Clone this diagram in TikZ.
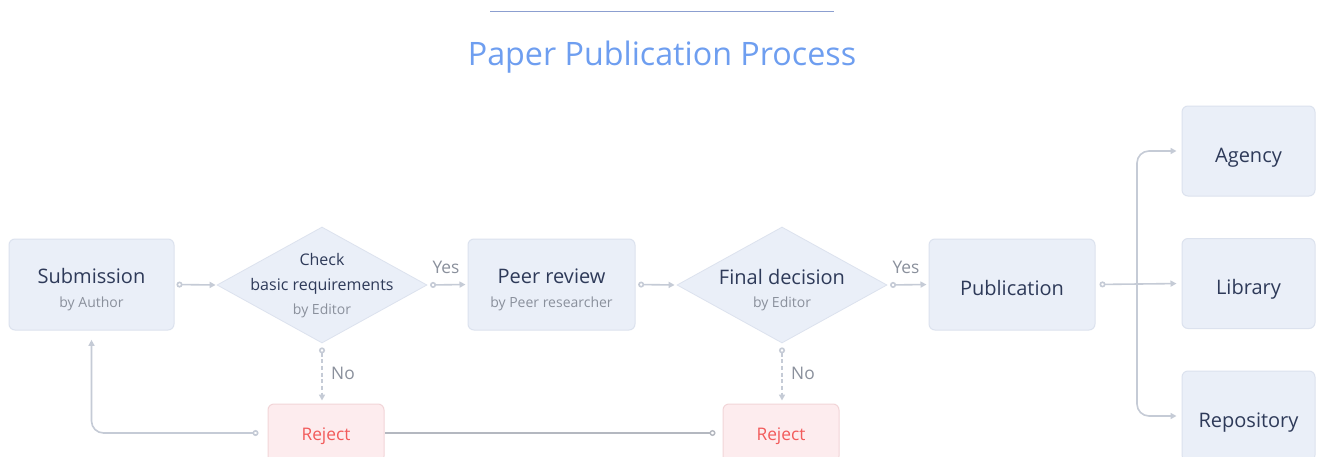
\documentclass[tikz,border=0pt]{standalone}
\usepackage{fontspec}
\setmainfont{Open Sans}
\usetikzlibrary{arrows.meta,shapes.geometric}
\definecolor{boxfill}{HTML}{EAEFF8}
\definecolor{boxline}{HTML}{DCE2EE}
\definecolor{rejfill}{HTML}{FDECEE}
\definecolor{rejline}{HTML}{F2D5D8}
\definecolor{rejtext}{HTML}{F25B5B}
\definecolor{maintext}{HTML}{2E3A59}
\definecolor{subtext}{HTML}{8A909C}
\definecolor{conncol}{HTML}{C5CBD6}
\definecolor{darkconn}{HTML}{B4B8C0}
\definecolor{titleblue}{HTML}{6E9EF0}
\definecolor{titleline}{HTML}{8C9FD0}
\newcommand{\mainf}{\fontsize{15}{18}\selectfont}
\newcommand{\subf}{\fontsize{10.5}{12}\selectfont}
\newcommand{\midf}{\fontsize{12}{14}\selectfont}
\begin{document}
\begin{tikzpicture}[x=0.75pt,y=-0.75pt,
  box/.style={draw=boxline, fill=boxfill, rounded corners=4.5pt, line width=0.75pt,
    text=maintext, inner sep=0pt, minimum height=68.25pt, font=\mainf},
  twoline/.style={text height=5pt, text depth=6.5pt},
  oneline/.style={text height=16.5pt, text depth=0pt},
  rejbox/.style={draw=rejline, fill=rejfill, rounded corners=4.5pt, line width=0.75pt,
    text=rejtext, inner sep=0pt, minimum width=87pt, minimum height=43.5pt,
    font=\fontsize{13}{15}\selectfont, text height=10.5pt, text depth=0pt},
  dia/.style={draw=boxline, fill=boxfill, diamond, inner sep=0pt,
    minimum width=157.5pt, minimum height=87pt, line width=0.6pt},
  subl/.style={text=subtext, font=\subf, inner sep=0pt, anchor=base},
  midl/.style={text=maintext, font=\midf, inner sep=0pt, anchor=base},
  bigl/.style={text=maintext, font=\mainf, inner sep=0pt, anchor=base},
  lbl/.style={text=subtext, font=\fontsize{13}{15}\selectfont, inner sep=0pt},
  conn/.style={draw=conncol, line width=1.2pt,
    {Circle[open,length=4.5pt,width=4.5pt,fill=white]}-{Triangle[length=4.5pt,width=4.5pt]}},
  branch/.style={draw=conncol, line width=1.2pt, -{Triangle[length=4.5pt,width=4.5pt]}},
  plainconn/.style={draw=darkconn, line width=1.1pt, {Circle[open,length=4.5pt,width=4.5pt,fill=white]}-}
]
\clip (0,0) rectangle (1318,457);
\fill[white] (0,0) rectangle (1318,457);

% title
\draw[titleline, line width=1pt] (490,11.5) -- (834,11.5);
\node[text=titleblue, font=\fontsize{24.2}{28}\selectfont, inner sep=0pt, anchor=base] (title) at (662,65) {Paper Publication Process};

% main nodes
\node[box, twoline, minimum width=123.75pt] (sub) at (91.5,284.5) {Submission};
\node[subl] (subA) at (91.5,307) {by Author};

\node[dia] (d1) at (322,285) {};
\node[midl] (d1a) at (322,265.5) {Check};
\node[midl] (d1b) at (322,290) {basic requirements};
\node[subl] (d1c) at (322,314) {by Editor};

\node[box, twoline, minimum width=125.25pt] (peer) at (551.5,284.5) {Peer review};
\node[subl] (peerA) at (551.5,307) {by Peer researcher};

\node[dia] (d2) at (782,285) {};
\node[bigl] (d2a) at (782,284) {Final decision};
\node[subl] (d2b) at (782,307) {by Editor};

\node[box, minimum width=124.5pt, text height=15.8pt, text depth=0pt] (pub) at (1012,284.5) {Publication};

\node[box, oneline, minimum width=99.75pt, minimum height=67.5pt] (ag) at (1248.5,151) {Agency};
\node[box, oneline, minimum width=99.75pt, minimum height=67.5pt] (lib) at (1248.5,283.5) {Library};
\node[box, oneline, minimum width=99.75pt, minimum height=67.5pt] (rep) at (1248.5,416) {Repository};

\node[rejbox] (rej1) at (326,433) {Reject};
\node[rejbox] (rej2) at (781,433) {Reject};

% connectors
\draw[conn, shorten <=1.5pt, shorten >=0.75pt] (sub.east) -- (d1.west);
\draw[conn, shorten <=2pt, shorten >=1.5pt] (d1.east) -- (peer.west);
\node[lbl] (yes1) at (446,267) {Yes};
\draw[conn, shorten <=2pt, shorten >=1.5pt] (peer.east) -- (d2.west);
\draw[conn, shorten <=2pt, shorten >=1.5pt] (d2.east) -- (pub.west);
\node[lbl] (yes2) at (906,267) {Yes};

\draw[conn, dashed, dash pattern=on 3pt off 2pt, shorten <=3pt, shorten >=2.25pt]
  (d1.south) -- (d1.south |- rej1.north);
\node[lbl] (no1) at (343,373) {No};
\draw[conn, dashed, dash pattern=on 3pt off 2pt, shorten <=3pt, shorten >=2.25pt]
  (d2.south) -- (d2.south |- rej2.north);
\node[lbl] (no2) at (803,373) {No};

\draw[conn, rounded corners=9pt, shorten <=6.75pt, shorten >=7pt] (rej1.west) -| (sub.south);
\draw[plainconn, shorten <=5.25pt] (rej2.west) -- (rej1.east);

\draw[conn, shorten <=3pt, shorten >=3.75pt] (pub.east) -- (lib.west);
\coordinate (j) at (1137,283.5);
\draw[branch, rounded corners=9pt, shorten >=3.75pt] (j) |- (ag.west);
\draw[branch, rounded corners=9pt, shorten >=3.75pt] (j) |- (rep.west);
\end{tikzpicture}
\end{document}
